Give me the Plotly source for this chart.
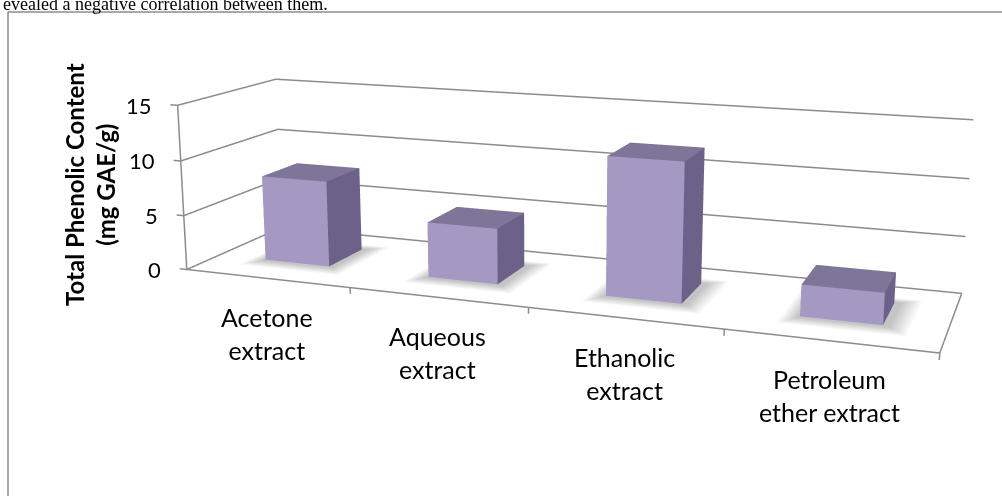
import numpy as np
import plotly.graph_objects as go

# ---- data ----
categories = ["Acetone<br>extract", "Aqueous<br>extract", "Ethanolic<br>extract", "Petroleum<br>ether extract"]
values = [7.9, 5.0, 12.1, 2.7]
z_ticks = [0, 5, 10, 15]
x_edges = [-0.5, 0.5, 1.5, 2.5, 3.5]
y_title = "Total Phenolic Content"
y_unit = "(mg GAE/g)"
page_text = "evealed a negative correlation between them."

# ---- layout / camera (perspective fitted to the Excel 3-D view) ----
WIN_W, WIN_H = 1002, 496
XR = (-0.5, 3.5); YR = (0.0, 1.0); ZR = (0.0, 15.0)
ASP_X, ASP_Y = 4.4129, 1.1239
CAM_POS = np.array([2.8663, -7.9769, 1.9317])
CAM_AZ, CAM_EL, CAM_ROLL = -0.3643, -0.2302, -0.0010
FOCAL, PPX, PPY = 1503.65, 535.35, 207.38

def cam_basis(az, el, roll):
    f = np.array([np.cos(el) * np.sin(az), np.cos(el) * np.cos(az), np.sin(el)])
    s0 = np.cross(f, [0, 0, 1.0]); s0 /= np.linalg.norm(s0)
    u0 = np.cross(s0, f)
    s = np.cos(roll) * s0 + np.sin(roll) * u0
    u = -np.sin(roll) * s0 + np.cos(roll) * u0
    return f, s, u

T = 1 / np.tan(np.pi / 8)          # plotly's fixed 45deg vertical field of view
FH = int(round(2 * FOCAL / T))
FW = int(2 * np.ceil(max(PPX, WIN_W - PPX))) + 4
LEFT = int(round(PPX - FW / 2)); TOP = int(round(PPY - FH / 2))

PXR = (-0.6, 3.6); PYR = (-0.05, 1.05); PZR = (-1.0, 15.5)
kx = ASP_X / (XR[1] - XR[0]); ky = ASP_Y / (YR[1] - YR[0]); kz = 1.0 / (ZR[1] - ZR[0])
off = np.array([(0.5 * sum(XR) - 0.5 * sum(PXR)) * kx, (0.5 * sum(YR) - 0.5 * sum(PYR)) * ky,
                (0.5 * sum(ZR) - 0.5 * sum(PZR)) * kz])
f, s, u = cam_basis(CAM_AZ, CAM_EL, CAM_ROLL)
eye = CAM_POS + off
cen = eye + f * np.linalg.norm(CAM_POS)

def wx(px):
    return (px - LEFT) / FW

def wy(py):
    return 1 - (py - TOP) / FH

BW = 0.4; BY0 = 0.32; BY1 = 0.70
FRONT = "#a599c3"; TOP_C = "#7f7599"; SIDE = "#6c6289"
GRID = "#8c8c8c"
FONT = "Lato"
FLAT = dict(ambient=1, diffuse=0, specular=0, roughness=1, fresnel=0)

fig = go.Figure()

# soft floor shadows
for i, v in enumerate(values):
    x0, x1 = i - BW / 2, i + BW / 2
    xi0, xi1, yi0, yi1 = x0 - 0.01, x1 + 0.03, BY0 - 0.02, BY1 + 0.02
    xo0, xo1, yo0, yo1 = x0 - 0.09, x1 + 0.13, BY0 - 0.14, BY1 + 0.10
    xs = [xi0, xi1, xi1, xi0, xo0, xo1, xo1, xo0]
    ys = [yi0, yi0, yi1, yi1, yo0, yo0, yo1, yo1]
    zs = [0.02] * 8
    I = [0, 0, 0, 1, 1, 2, 2, 3, 3]
    J = [1, 1, 4, 2, 5, 3, 6, 0, 7]
    K = [2, 5, 5, 6, 6, 7, 7, 4, 4]
    I = [0, 0, 1, 1, 2, 2, 3, 3, 0, 0]
    J = [1, 2, 5, 2, 6, 3, 7, 0, 4, 1]
    K = [2, 3, 4, 5, 5, 6, 6, 7, 7, 4]
    I = [0, 0] + [0, 0, 1, 1, 2, 2, 3, 3]
    J = [1, 2] + [4, 5, 5, 6, 6, 7, 7, 4]
    K = [2, 3] + [5, 1, 6, 2, 7, 3, 4, 0]
    vc = ["#c4c4c4"] * 4 + ["#ffffff"] * 4
    fig.add_trace(go.Mesh3d(x=xs, y=ys, z=zs, i=I, j=J, k=K, vertexcolor=vc,
                            lighting=FLAT, hoverinfo="skip", showscale=False))

# bars
for i, v in enumerate(values):
    x0, x1 = i - BW / 2, i + BW / 2
    xs = [x0, x1, x1, x0, x0, x1, x1, x0]
    ys = [BY0, BY0, BY1, BY1, BY0, BY0, BY1, BY1]
    zs = [0, 0, 0, 0, v, v, v, v]
    I = [0, 0, 4, 4, 0, 0, 1, 1, 2, 2, 3, 3]
    J = [1, 2, 5, 6, 1, 5, 2, 6, 3, 7, 0, 4]
    K = [2, 3, 6, 7, 5, 4, 6, 5, 7, 6, 4, 7]
    fc = [SIDE] * 2 + [TOP_C] * 2 + [FRONT] * 2 + [SIDE] * 6
    fig.add_trace(go.Mesh3d(x=xs, y=ys, z=zs, i=I, j=J, k=K, facecolor=fc, flatshading=True,
                            lighting=FLAT, hoverinfo="skip", showscale=False))

# walls' gridlines, floor outline, axis line and ticks
lx, ly, lz = [], [], []
def seg(pts):
    for p in pts:
        lx.append(p[0]); ly.append(p[1]); lz.append(p[2])
    lx.append(None); ly.append(None); lz.append(None)
for v in z_ticks:
    seg([(XR[0], YR[0], v), (XR[0], YR[1], v), (XR[1], YR[1], v)])
    seg([(XR[0] - 0.045, YR[0], v), (XR[0], YR[0], v)])
seg([(XR[0], YR[0], ZR[0]), (XR[1], YR[0], ZR[0]), (XR[1], YR[1], ZR[0])])
seg([(XR[0], YR[0], ZR[0]), (XR[0], YR[0], ZR[1])])
for e in x_edges[1:]:
    seg([(e, YR[0], ZR[0]), (e, YR[0], -0.55)])
fig.add_trace(go.Scatter3d(x=lx, y=ly, z=lz, mode="lines", line=dict(color=GRID, width=3),
                           hoverinfo="skip", showlegend=False))

hidden = dict(showbackground=False, zeroline=False, showspikes=False, title=dict(text=""),
              showgrid=False, showline=False, showticklabels=False, ticks="")
ann = []
for i, c in enumerate(categories):
    ann.append(dict(x=i, y=0, z=0, text=c, showarrow=False, yshift=-55,
                    font=dict(family=FONT, size=25, color="black")))
for v in z_ticks:
    ann.append(dict(x=XR[0], y=0, z=v, text=str(v), showarrow=False, xanchor="right", xshift=-24,
                    font=dict(family=FONT, size=22, color="black")))

shapes = [
    dict(type="line", xref="paper", yref="paper", x0=wx(8), x1=wx(8), y0=wy(12), y1=wy(520),
         line=dict(color="#8c8c8c", width=1.5)),
    dict(type="line", xref="paper", yref="paper", x0=wx(8), x1=wx(1010), y0=wy(12), y1=wy(12),
         line=dict(color="#8c8c8c", width=1.5)),
]

fig.update_layout(
    width=FW, height=FH, margin=dict(l=0, r=0, t=0, b=0, pad=0), autosize=False,
    paper_bgcolor="white", showlegend=False, shapes=shapes,
    scene=dict(
        domain=dict(x=[0, 1], y=[0, 1]),
        xaxis=dict(range=list(PXR), **hidden),
        yaxis=dict(range=list(PYR), **hidden),
        zaxis=dict(range=list(PZR), **hidden),
        aspectmode="manual",
        aspectratio=dict(x=kx * (PXR[1] - PXR[0]), y=ky * (PYR[1] - PYR[0]), z=kz * (PZR[1] - PZR[0])),
        camera=dict(eye=dict(x=eye[0], y=eye[1], z=eye[2]), center=dict(x=cen[0], y=cen[1], z=cen[2]),
                    up=dict(x=u[0], y=u[1], z=u[2]), projection=dict(type="perspective")),
        annotations=ann,
    ),
)
fig.add_annotation(x=wx(90), y=wy(185), xref="paper", yref="paper", showarrow=False, textangle=-90,
                   xanchor="center", yanchor="middle",
                   text="<b>" + y_title + "</b><br><b>" + y_unit + "</b>",
                   font=dict(family=FONT, size=24, color="black"))
fig.add_annotation(x=wx(1), y=wy(16), xref="paper", yref="paper", showarrow=False, xanchor="left",
                   yanchor="bottom", text=page_text,
                   font=dict(family="Liberation Serif", size=18, color="black"))

post = ("document.documentElement.style.overflow='hidden';"
        "var b=document.body;b.style.margin='0';b.style.width='%dpx';b.style.height='%dpx';"
        "b.style.overflow='hidden';b.style.position='relative';"
        "var gd=document.getElementById('{plot_id}');gd.style.position='absolute';"
        "gd.style.left='%dpx';gd.style.top='%dpx';") % (WIN_W, WIN_H, LEFT, TOP)
fig.write_html("out.html", post_script=post, config={"displayModeBar": False})
